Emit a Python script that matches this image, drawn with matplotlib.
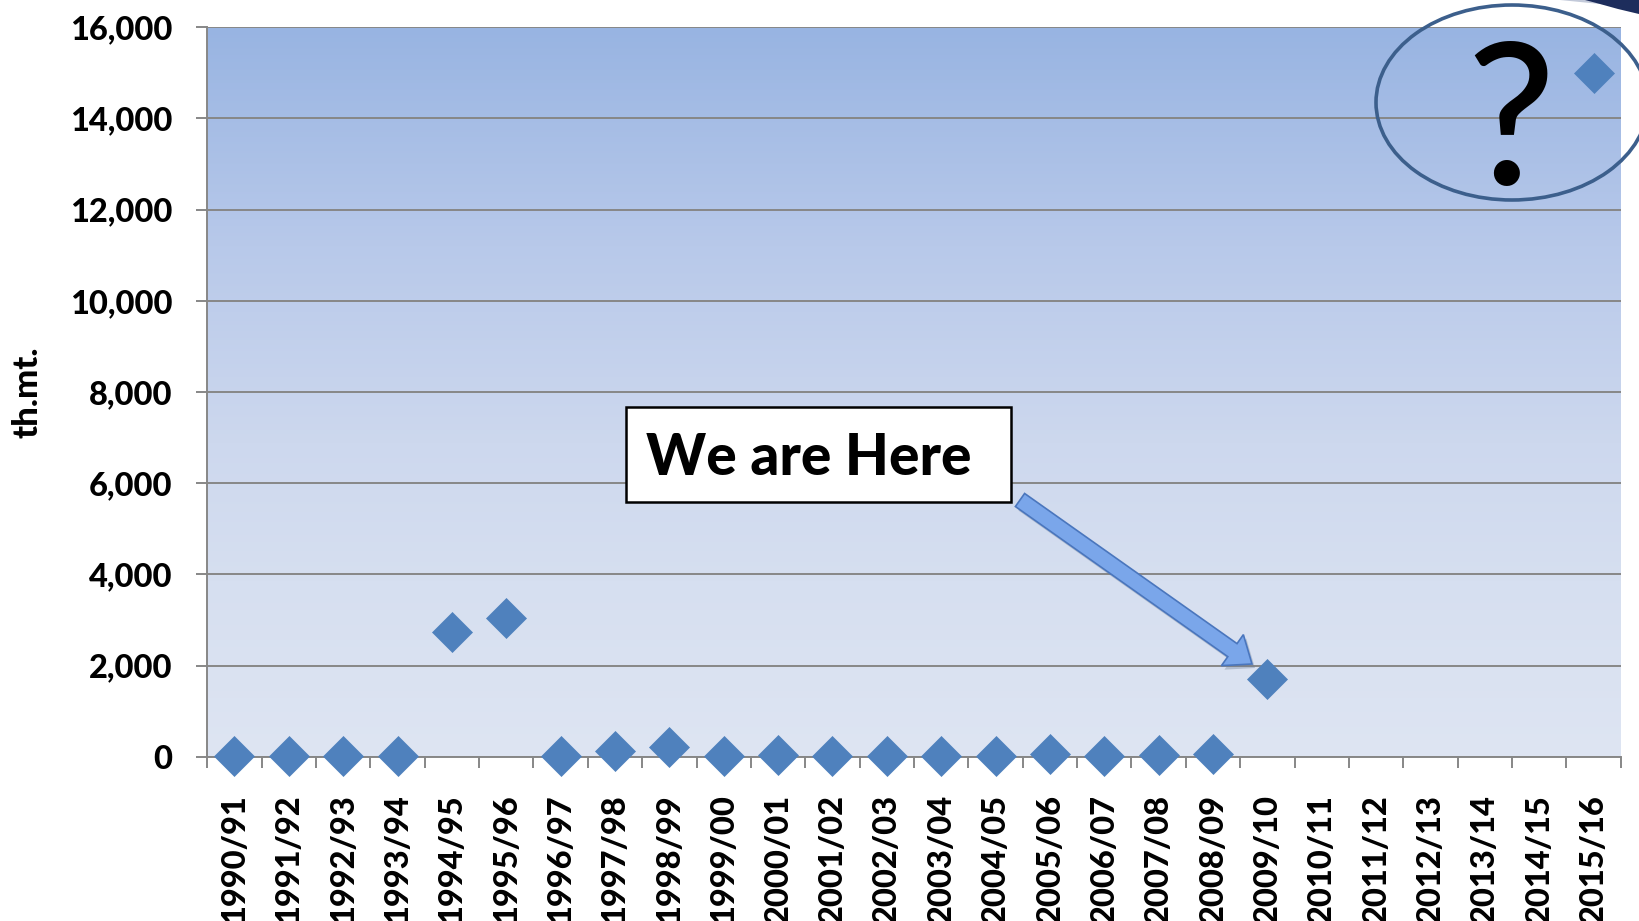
import numpy as np
import matplotlib
matplotlib.use("Agg")
import matplotlib.pyplot as plt
from matplotlib.patches import Rectangle, Ellipse, FancyArrow, Polygon
from matplotlib.transforms import Affine2D
from matplotlib.ticker import FuncFormatter, FixedLocator
from matplotlib.font_manager import FontProperties, fontManager

# ---- data ----
seasons = ["1990/91", "1991/92", "1992/93", "1993/94", "1994/95", "1995/96",
           "1996/97", "1997/98", "1998/99", "1999/00", "2000/01", "2001/02",
           "2002/03", "2003/04", "2004/05", "2005/06", "2006/07", "2007/08",
           "2008/09", "2009/10", "2010/11", "2011/12", "2012/13", "2013/14",
           "2014/15", "2015/16"]
values = [10, 10, 10, 10, 2730, 3040, 10, 120, 210, 10, 30, 20,
          10, 10, 20, 60, 20, 35, 50, 1700, np.nan, np.nan, np.nan, np.nan,
          np.nan, 15000]
y_ticks = [0, 2000, 4000, 6000, 8000, 10000, 12000, 14000, 16000]
y_label = "th.mt."
callout_text = "We are Here"
question_text = "?"

lato_weights = sorted({f.weight for f in fontManager.ttflist if f.name == "Lato"},
                      key=lambda w: int(w) if str(w).isdigit() else 0)
heavy = 900 if any(str(w) in ("900", "800", "black", "heavy") for w in lato_weights) else "bold"

W, H = 1639, 921
fig = plt.figure(figsize=(W / 100, H / 100), dpi=100)
fig.patch.set_facecolor("white")

ax = fig.add_axes([207.3 / W, 1 - 756.7 / H, (1620.7 - 207.3) / W, (756.7 - 27.3) / H])

x = np.arange(len(seasons))
ax.set_xlim(-0.5, len(seasons) - 0.5)
ax.set_ylim(0, 16000)

# gradient background
stops_t = [0.0, 0.3, 0.57, 0.76, 1.0]
stops_c = np.array([[152, 180, 226], [184, 201, 234], [205, 216, 238],
                    [214, 223, 240], [222, 229, 243]]) / 255.0
t = np.linspace(0, 1, 400)
grad = np.stack([np.interp(t, stops_t, stops_c[:, i]) for i in range(3)], axis=1)
grad = grad[:, None, :]
ax.imshow(grad, aspect="auto", extent=(-0.5, len(seasons) - 0.5, 0, 16000),
          origin="upper", zorder=0, interpolation="bilinear")

ax.set_axisbelow(True)
grid_c = "#878787"
ax.yaxis.grid(True, color=grid_c, linewidth=1.4, zorder=0.5)

for s in ["right", "top"]:
    ax.spines[s].set_visible(False)
for s in ["left", "bottom"]:
    ax.spines[s].set_color(grid_c)
    ax.spines[s].set_linewidth(1.4)

ax.plot(x, values, linestyle="none", marker="D", markersize=20.5,
        color="#4f81bd", markeredgecolor="#4f81bd", markeredgewidth=0.5,
        zorder=3, clip_on=False)

tick_fp = FontProperties(family=["Lato", "DejaVu Sans"], weight=heavy, size=23.5)
ax.set_yticks(y_ticks)
ax.yaxis.set_major_formatter(FuncFormatter(lambda v, p: f"{int(v):,}"))
ax.tick_params(axis="y", length=8, width=1.4, color=grid_c, pad=17)
for lab in ax.get_yticklabels():
    lab.set_fontproperties(tick_fp)

ax.set_xticks(x)
ax.set_xticklabels(seasons, rotation=90, va="top", ha="center")
for lab in ax.get_xticklabels():
    lab.set_fontproperties(tick_fp)
ax.tick_params(axis="x", which="major", length=0, pad=27)
ax.xaxis.set_minor_locator(FixedLocator(np.arange(-0.5, len(seasons), 1.0)))
ax.tick_params(axis="x", which="minor", length=8, width=1.4, color=grid_c)

# y label
fig.text(28 / W, 1 - 392 / H, y_label, rotation=90, ha="center", va="center",
         fontproperties=FontProperties(family=["Lato", "DejaVu Sans"], weight=heavy, size=25))

# pixel transform (top-left origin)
ptr = Affine2D().scale(1 / W, -1 / H).translate(0, 1) + fig.transFigure

# callout box
box = Rectangle((626, 407), 385, 95, transform=ptr, facecolor="white",
                edgecolor="black", linewidth=1.8, zorder=10)
fig.patches.append(box)
fig.text(646 / W, 1 - 475 / H, callout_text, ha="left", va="baseline",
         fontproperties=FontProperties(family=["Lato", "DejaVu Sans"], weight=heavy, size=41),
         zorder=11)

# arrow (shadow + arrow)
x0, y0, x1, y1 = 1020, 500, 1252, 664
shadow = FancyArrow(x0 + 3, y0 + 4, x1 - x0, y1 - y0, width=16, head_width=38,
                    head_length=24, length_includes_head=True, transform=ptr,
                    facecolor="#6a7a90", edgecolor="none", alpha=0.35, zorder=9)
fig.patches.append(shadow)
arr = FancyArrow(x0, y0, x1 - x0, y1 - y0, width=16, head_width=38,
                 head_length=24, length_includes_head=True, transform=ptr,
                 facecolor="#7aa6ea", edgecolor="#4a76bd", linewidth=1.2,
                 zorder=10)
fig.patches.append(arr)

# ellipse with question mark
ell = Ellipse((1512, 102.5), 272, 195, transform=ptr, facecolor="none",
              edgecolor="#3c5f8c", linewidth=2.6, zorder=10)
fig.patches.append(ell)
fig.text(1511 / W, 1 - 185 / H, question_text, ha="center", va="baseline",
         fontproperties=FontProperties(family=["Lato", "DejaVu Sans"], weight="medium", size=142),
         color="black", zorder=11)

# decorative swoosh at the top-right corner
sw1 = Polygon([(1560, 0), (1639, 0), (1639, 8), (1600, 4)], closed=True,
              transform=ptr, facecolor="#9aa6c0", edgecolor="none", alpha=0.6,
              zorder=8)
sw2 = Polygon([(1585, 0), (1639, 0), (1639, 14), (1618, 9), (1600, 4)],
              closed=True, transform=ptr, facecolor="#1d2d5c", edgecolor="none",
              zorder=9)
fig.patches.append(sw1)
fig.patches.append(sw2)

fig.savefig("out.png", dpi=100, facecolor="white")
